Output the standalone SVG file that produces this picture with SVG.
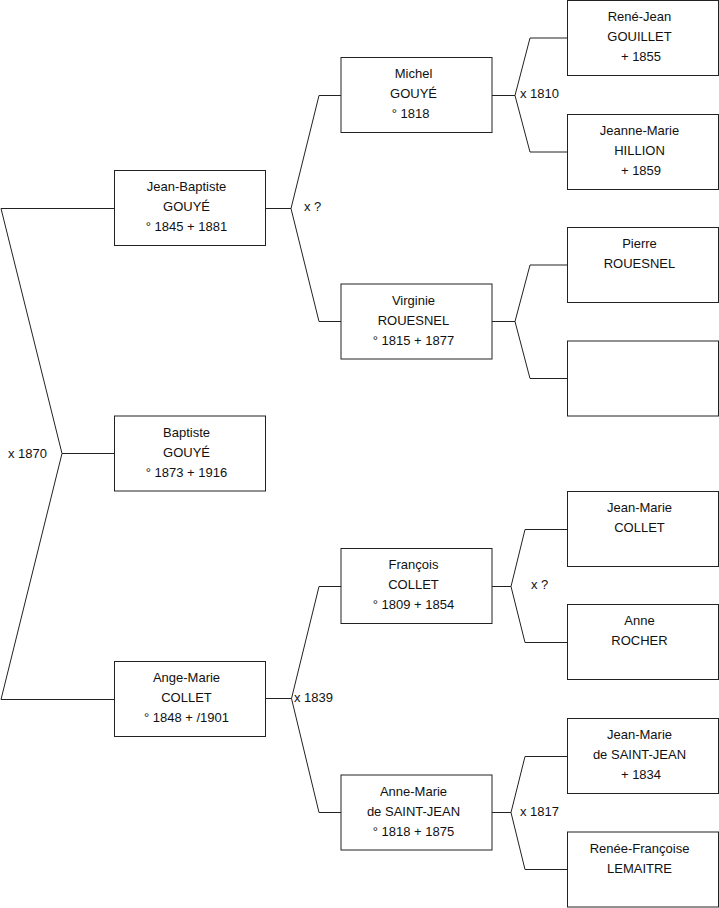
<svg xmlns="http://www.w3.org/2000/svg" width="719" height="908" viewBox="0 0 719 908">
<style>
.box{fill:#fff;stroke:#222;stroke-width:1}
.t{font-family:"Liberation Sans",Arial,sans-serif;font-size:13px;fill:#111;text-anchor:middle}
.l{font-family:"Liberation Sans",Arial,sans-serif;font-size:13px;fill:#111}
.c{fill:none;stroke:#222;stroke-width:1}
</style>
<rect width="719" height="908" fill="#fff"/>
<g id="connectors">
<path class="c" d="M114,208.5 H1 L62,453.5 L1,699.5 H114 M62,453.5 H114"/>
<path class="c" d="M265,208.5 H291 L319,95.5 H341 M291,208.5 L319,321.5 H341"/>
<path class="c" d="M265,698.5 H291.5 L319,586.5 H341 M291.5,698.5 L319,812.5 H341"/>
<path class="c" d="M492,95.5 H515 L530,38 H567 M515,95.5 L530,152 H567"/>
<path class="c" d="M492,321.5 H515 L530,265 H567 M515,321.5 L530,378.5 H567"/>
<path class="c" d="M492,586.5 H511 L525,529.5 H567 M511,586.5 L525,642.5 H567"/>
<path class="c" d="M492,812.5 H511 L525,756.5 H567 M511,812.5 L525,869.5 H567"/>
<text class="l" x="8" y="458">x 1870</text>
<text class="l" x="304" y="211">x ?</text>
<text class="l" x="294" y="702">x 1839</text>
<text class="l" x="520" y="98">x 1810</text>
<text class="l" x="531" y="589">x ?</text>
<text class="l" x="520" y="815.5">x 1817</text>
</g>
<g id="jean-baptiste"><rect class="box" x="114.5" y="170.5" width="151" height="75"/>
<text class="t" x="186.5" y="191">Jean-Baptiste</text><text class="t" x="186.5" y="211">GOUYÉ</text><text class="t" x="186.5" y="231">° 1845 + 1881</text></g>
<g id="baptiste"><rect class="box" x="114.5" y="416" width="151" height="75"/>
<text class="t" x="186.5" y="436.5">Baptiste</text><text class="t" x="186.5" y="456.5">GOUYÉ</text><text class="t" x="186.5" y="476.5">° 1873 + 1916</text></g>
<g id="ange-marie"><rect class="box" x="114.5" y="661.5" width="151" height="75"/>
<text class="t" x="186.5" y="682">Ange-Marie</text><text class="t" x="186.5" y="702">COLLET</text><text class="t" x="186.5" y="722">° 1848 + /1901</text></g>
<g id="michel"><rect class="box" x="341" y="57.5" width="151" height="75"/>
<text class="t" x="413.5" y="78">Michel</text><text class="t" x="413.5" y="98">GOUYÉ</text><text class="t" x="410.5" y="118">° 1818</text></g>
<g id="virginie"><rect class="box" x="341" y="284" width="151" height="75"/>
<text class="t" x="413.5" y="304.5">Virginie</text><text class="t" x="413.5" y="324.5">ROUESNEL</text><text class="t" x="413.5" y="344.5">° 1815 + 1877</text></g>
<g id="francois"><rect class="box" x="341" y="548.5" width="151" height="75"/>
<text class="t" x="413.5" y="569">François</text><text class="t" x="413.5" y="589">COLLET</text><text class="t" x="413.5" y="609">° 1809 + 1854</text></g>
<g id="anne-marie"><rect class="box" x="341" y="775" width="151" height="75"/>
<text class="t" x="413.5" y="795.5">Anne-Marie</text><text class="t" x="413.5" y="815.5">de SAINT-JEAN</text><text class="t" x="413.5" y="835.5">° 1818 + 1875</text></g>
<g id="rene-jean"><rect class="box" x="567.5" y="0.5" width="151" height="75"/>
<text class="t" x="639.5" y="21">René-Jean</text><text class="t" x="639.5" y="41">GOUILLET</text><text class="t" x="641" y="61">+ 1855</text></g>
<g id="jeanne-marie"><rect class="box" x="567.5" y="114.5" width="151" height="75"/>
<text class="t" x="639.5" y="135">Jeanne-Marie</text><text class="t" x="639.5" y="155">HILLION</text><text class="t" x="641" y="175">+ 1859</text></g>
<g id="pierre"><rect class="box" x="567.5" y="227.5" width="151" height="75"/>
<text class="t" x="639.5" y="248">Pierre</text><text class="t" x="639.5" y="268">ROUESNEL</text></g>
<g id="unknown"><rect class="box" x="567.5" y="341" width="151" height="75"/></g>
<g id="jean-marie-collet"><rect class="box" x="567.5" y="491.5" width="151" height="75"/>
<text class="t" x="639.5" y="512">Jean-Marie</text><text class="t" x="639.5" y="532">COLLET</text></g>
<g id="anne-rocher"><rect class="box" x="567.5" y="604.5" width="151" height="75"/>
<text class="t" x="639.5" y="625">Anne</text><text class="t" x="639.5" y="645">ROCHER</text></g>
<g id="jean-marie-saint-jean"><rect class="box" x="567.5" y="718.5" width="151" height="75"/>
<text class="t" x="639.5" y="739">Jean-Marie</text><text class="t" x="639.5" y="759">de SAINT-JEAN</text><text class="t" x="641" y="779">+ 1834</text></g>
<g id="renee-francoise"><rect class="box" x="567.5" y="832" width="151" height="75"/>
<text class="t" x="639.5" y="852.5">Renée-Françoise</text><text class="t" x="639.5" y="872.5">LEMAITRE</text></g>
</svg>
